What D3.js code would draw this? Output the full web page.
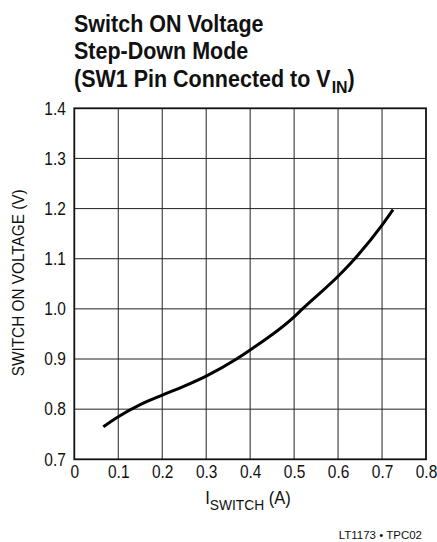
<!DOCTYPE html>
<html><head><meta charset="utf-8">
<script src="https://cdn.jsdelivr.net/npm/d3@7/dist/d3.min.js"></script>
<style>
body{margin:0;background:#fff;}
svg text{font-family:"Liberation Sans",Arial,sans-serif;fill:#111;}
</style></head>
<body>
<svg id="c" width="437" height="542"></svg>
<script>
const xTicks = [0,0.1,0.2,0.3,0.4,0.5,0.6,0.7,0.8];
const yTicks = [0.7,0.8,0.9,1.0,1.1,1.2,1.3,1.4];
const xLabels = ["0","0.1","0.2","0.3","0.4","0.5","0.6","0.7","0.8"];
const yLabels = ["0.7","0.8","0.9","1.0","1.1","1.2","1.3","1.4"];
const current = [0.066,0.1,0.15,0.2,0.25,0.3,0.369,0.4,0.5,0.519,0.6,0.638,0.7,0.725];
const voltage = [0.765,0.785,0.809,0.828,0.846,0.866,0.900,0.918,0.984,1.000,1.065,1.100,1.167,1.198];

const svg = d3.select("#c");
const L=74.3,R=426,T=108.3,B=459.3;
const x = d3.scaleLinear().domain([0,0.8]).range([L,R]);
const y = d3.scaleLinear().domain([0.7,1.4]).range([B,T]);

// grid
const g = svg.append("g");
g.selectAll("line.v").data(xTicks.slice(1,-1)).join("line")
 .attr("x1",d=>x(d)).attr("x2",d=>x(d)).attr("y1",T).attr("y2",B)
 .attr("stroke","#222").attr("stroke-width",1);
g.selectAll("line.h").data(yTicks.slice(1,-1)).join("line")
 .attr("y1",d=>y(d)).attr("y2",d=>y(d)).attr("x1",L).attr("x2",R)
 .attr("stroke","#222").attr("stroke-width",1);
svg.append("rect").attr("x",L).attr("y",T).attr("width",R-L).attr("height",B-T)
 .attr("fill","none").attr("stroke","#111").attr("stroke-width",1.8);

// axes labels
const xAxis = d3.axisBottom(x).tickValues(xTicks).tickFormat((d,i)=>xLabels[i]).tickSize(0).tickPadding(0);
const xa = svg.append("g").attr("transform",`translate(0,${B})`).call(xAxis);
xa.select(".domain").remove();
xa.selectAll("text").attr("dy",0).attr("y",19).attr("x",0).attr("transform","scale(0.86,1)")
  .style("font-size","18px").attr("fill","#111");

const yAxis = d3.axisLeft(y).tickValues(yTicks).tickFormat((d,i)=>yLabels[i]).tickSize(0).tickPadding(0);
const ya = svg.append("g").attr("transform",`translate(${L-8.5},0)`).call(yAxis);
ya.select(".domain").remove();
ya.selectAll("text").attr("x",0).attr("transform","scale(0.86,1)").style("font-size","18px").attr("fill","#111");

// curve
const pts = current.map((c,i)=>[c,voltage[i]]);
svg.append("path").datum(pts)
 .attr("d",d3.line().x(d=>x(d[0])).y(d=>y(d[1])).curve(d3.curveMonotoneX))
 .attr("fill","none").attr("stroke","#000").attr("stroke-width",3);

// title
const tt = svg.append("g").attr("transform","translate(74,0) scale(0.935,1)")
  .style("font-weight","bold").style("font-size","23px");
tt.append("text").attr("x",0).attr("y",32).text("Switch ON Voltage");
tt.append("text").attr("x",0).attr("y",59).text("Step-Down Mode");
const t3 = tt.append("text").attr("x",0).attr("y",87);
t3.append("tspan").text("(SW1 Pin Connected to V");
t3.append("tspan").attr("dy",6).attr("dx",1).style("font-size","17px").text("IN");
t3.append("tspan").attr("dy",-6).text(")");

// y title
svg.append("text").attr("transform",`translate(24,${(T+B)/2 - 1}) rotate(-90) scale(0.93,1)`)
 .attr("text-anchor","middle").style("font-size","16.5px").text("SWITCH ON VOLTAGE (V)");

// x title
const xt = svg.append("text").attr("transform","translate(248,504) scale(0.92,1)")
 .attr("text-anchor","middle").style("font-size","18px");
xt.append("tspan").text("I");
xt.append("tspan").attr("dy",6).style("font-size","15px").text("SWITCH");
xt.append("tspan").attr("dy",-6).text(" (A)");

svg.append("text").attr("x",422).attr("y",539).attr("text-anchor","end").style("font-size","11.5px").text("LT1173 • TPC02");
</script>
</body></html>
